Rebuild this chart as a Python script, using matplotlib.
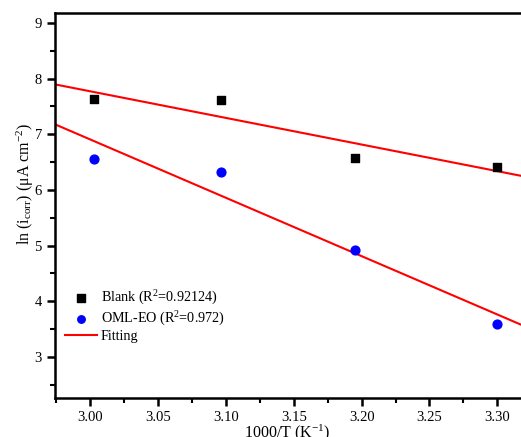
import numpy as np
import matplotlib
matplotlib.use("Agg")
import matplotlib.pyplot as plt
from matplotlib.ticker import MultipleLocator

plt.rcParams['font.family'] = ['Liberation Serif', 'DejaVu Serif']
plt.rcParams['mathtext.fontset'] = 'custom'
plt.rcParams['mathtext.rm'] = 'Liberation Serif'
plt.rcParams['mathtext.it'] = 'Liberation Serif'

# inverse temperature (1000/T) and ln(icorr) values
inv_T = [3.003, 3.096, 3.195, 3.300]
blank = [7.64, 7.62, 6.58, 6.41]
oml_eo = [6.56, 6.33, 4.92, 3.59]

labels = ["Blank (R$^2$=0.92124)", "OML-EO (R$^2$=0.972)", "Fitting"]

fig = plt.figure(figsize=(5.21, 4.37), dpi=100)
ax = fig.add_axes([0.1056, 0.0892, 0.927, 0.881])

xlim = (2.974, 3.33)
xs = np.array(xlim)

# linear fits
for ys in (blank, oml_eo):
	k, b = np.polyfit(inv_T, ys, 1)
	ax.plot(xs, k * xs + b, color='red', lw=1.5, zorder=2)

ax.scatter(inv_T, blank, marker='s', s=36, color='black', zorder=3, label=labels[0])
ax.scatter(inv_T, oml_eo, marker='o', s=40, color='blue', zorder=3, label=labels[1])
ax.plot([], [], color='red', lw=1.5, label=labels[2])

ax.set_xlim(*xlim)
ax.set_ylim(2.26, 9.18)
ax.xaxis.set_major_locator(MultipleLocator(0.05))
ax.xaxis.set_minor_locator(MultipleLocator(0.025))
ax.yaxis.set_major_locator(MultipleLocator(1))
ax.yaxis.set_minor_locator(MultipleLocator(0.5))
ax.xaxis.set_major_formatter(matplotlib.ticker.FormatStrFormatter('%.2f'))

for s in ax.spines.values():
	s.set_linewidth(1.8)
ax.tick_params(which='major', direction='out', length=6, width=1.8, labelsize=10.5, top=False, right=False)
ax.tick_params(which='minor', direction='out', length=3.5, width=1.5, top=False, right=False)

ax.set_xlabel("1000/T (K$^{-1}$)", fontsize=11.5)
ax.set_ylabel("ln (i$_{corr}$) (\u03bcA cm$^{-2}$)", fontsize=11.5)
ax.xaxis.set_label_coords(0.48, -0.064)
ax.yaxis.set_label_coords(-0.040, 0.555)

ax.legend(loc='upper left', bbox_to_anchor=(0.004, 0.305), frameon=False, fontsize=10.2,
		  handlelength=2.2, handletextpad=0.3, labelspacing=0.15, borderaxespad=0.2,
		  markerscale=0.85)

fig.savefig("out.png", dpi=100)
